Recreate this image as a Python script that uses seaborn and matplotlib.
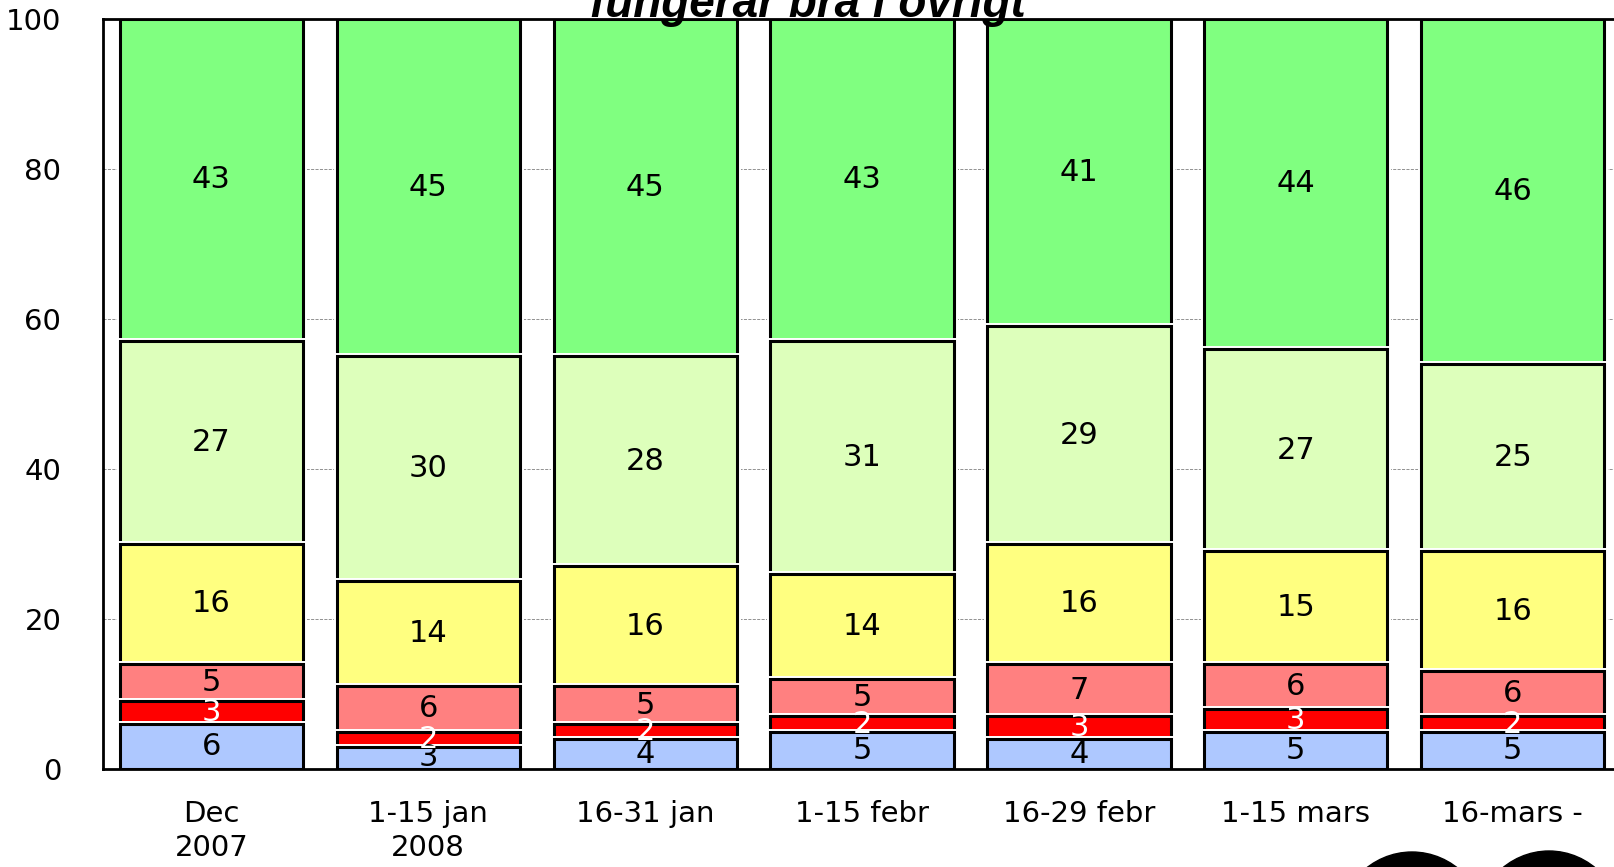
import numpy as np
import pandas as pd
import seaborn as sns
import matplotlib.pyplot as plt
import matplotlib.patheffects as pe
from matplotlib.patches import Ellipse

periods = ["Dec\n2007", "1-15 jan\n2008", "16-31 jan", "1-15 febr",
           "16-29 febr", "1-15 mars", "16-mars -"]

# layers from bottom to top
blue = [6, 3, 4, 5, 4, 5, 5]
red = [3, 2, 2, 2, 3, 3, 2]
pink = [5, 6, 5, 5, 7, 6, 6]
yellow = [16, 14, 16, 14, 16, 15, 16]
lightgreen = [27, 30, 28, 31, 29, 27, 25]
green = [43, 45, 45, 43, 41, 44, 46]

layers = [blue, red, pink, yellow, lightgreen, green]
colors = ["#AEC8FF", "#FF0000", "#FF8080", "#FFFF80", "#DDFFBB", "#80FF80"]
text_colors = ["black", "white", "black", "black", "black", "black"]

sns.set_theme(style="white")
plt.rcParams["font.family"] = ["DejaVu Sans"]

fig = plt.figure(figsize=(16.14, 8.67), dpi=100)
ax = fig.add_axes([0.0638, 0.113, 0.9406, 0.8656])

cum = np.cumsum(np.array(layers), axis=0)
df = pd.DataFrame({"period": periods})

# draw cumulative bars from the top layer down so they stack
for k in range(len(layers) - 1, -1, -1):
    df["h"] = cum[k]
    sns.barplot(data=df, x="period", y="h", color=colors[k], saturation=1,
                width=0.845, edgecolor="black", linewidth=2.2, ax=ax, zorder=2)

for p in ax.patches:
    p.set_path_effects([pe.Stroke(linewidth=5, foreground="white"), pe.Normal()])

for k, vals in enumerate(layers):
    for i, v in enumerate(vals):
        ax.text(i, cum[k][i] - v / 2, str(v), ha="center", va="center",
                fontsize=22, color=text_colors[k], zorder=5, clip_on=True)

ax.set_xlim(-0.5, 6.5)
ax.set_ylim(0, 100)
ax.set_yticks([0, 20, 40, 60, 80, 100])
ax.yaxis.grid(True, color="gray", linestyle="--", linewidth=0.6, zorder=0)
ax.set_axisbelow(True)
ax.tick_params(axis="y", length=0, pad=30, labelsize=21, labelcolor="black")
ax.tick_params(axis="x", length=0, pad=22, labelsize=21, labelcolor="black")
for lab in ax.get_xticklabels():
    lab.set_linespacing(1.3)
ax.set_xlabel("")
ax.set_ylabel("")
for s in ["left", "top", "bottom"]:
    ax.spines[s].set_color("black")
    ax.spines[s].set_linewidth(2)
ax.spines["right"].set_visible(False)

fig.text(0.5006, 0.980, "fungerar bra i övrigt", ha="center", va="baseline",
         fontsize=33, fontweight="bold", fontstyle="italic", color="black",
         family=["Liberation Sans", "DejaVu Sans"])

# logo fragments at the bottom right
fig.patches.append(Ellipse((1412 / 1614, (867 - 930) / 867), 150 / 1614, 156 / 867,
                           transform=fig.transFigure, color="black"))
fig.patches.append(Ellipse((1549 / 1614, (867 - 930) / 867), 150 / 1614, 158 / 867,
                           transform=fig.transFigure, color="black"))

fig.savefig("out.png", dpi=100)
